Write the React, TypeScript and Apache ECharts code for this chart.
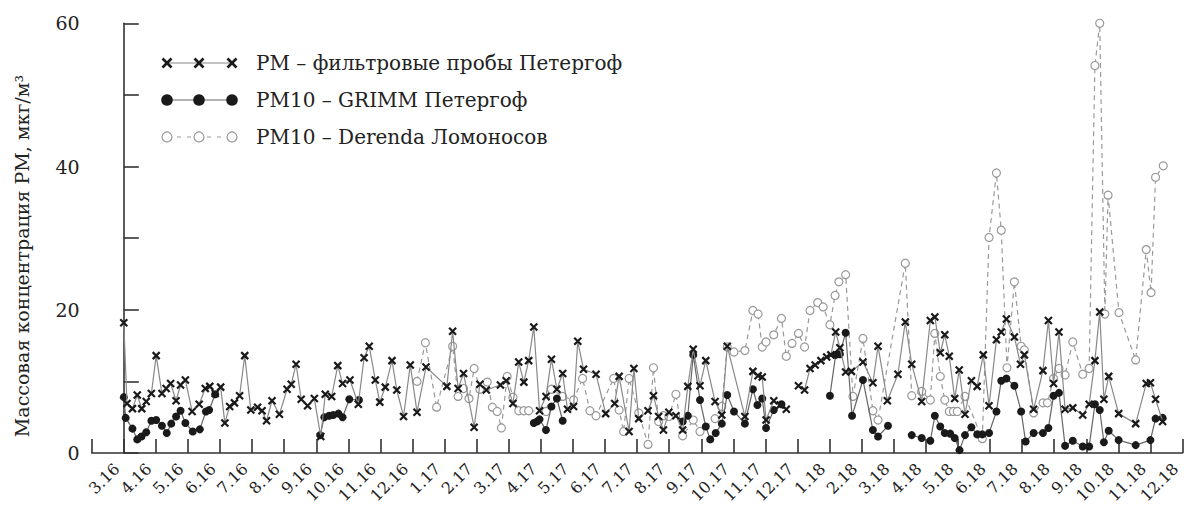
import React, { useEffect, useRef } from "react";
import * as echarts from "echarts";

// Month tick labels (position 0 = March 2016)
const monthLabels: string[] = [
  "3.16", "4.16", "5.16", "6.16", "7.16", "8.16", "9.16", "10.16", "11.16", "12.16",
  "1.17", "2.17", "3.17", "4.17", "5.17", "6.17", "7.17", "8.17", "9.17", "10.17", "11.17", "12.17",
  "1.18", "2.18", "3.18", "4.18", "5.18", "6.18", "7.18", "8.18", "9.18", "10.18", "11.18", "12.18",
];

const yAxisName = "Массовая концентрация PM, мкг/м³";
const seriesNames = [
  "PM – фильтровые пробы Петергоф",
  "PM10 – GRIMM Петергоф",
  "PM10 – Derenda Ломоносов",
];

// [month position, concentration]; null = gap
const pmFilter: [number, number | null][] = [
  [0.00, 18.2], [0.10, 6.9], [0.27, 6.2], [0.42, 8.1], [0.56, 6.2], [0.70, 7.2], [0.86, 8.3], [1.01, 13.6],
  [1.19, 8.3], [1.32, 9.0], [1.46, 9.7], [1.63, 7.3], [1.77, 9.5], [1.92, 10.2], [2.13, 5.8], [2.35, 6.8],
  [2.54, 9.0], [2.68, 9.3], [2.85, 8.3], [3.02, 9.2], [3.15, 4.2], [3.30, 6.5], [3.45, 7.0], [3.61, 8.0],
  [3.77, 13.6], [3.96, 6.0], [4.17, 6.4], [4.31, 5.9], [4.45, 4.5], [4.62, 7.3], [4.85, 5.4], [5.09, 8.9],
  [5.22, 9.6], [5.37, 12.4], [5.53, 7.5], [5.73, 6.6], [5.94, 7.6], [6.14, 2.3], [6.28, 8.2], [6.48, 7.9],
  [6.67, 12.2], [6.82, 9.7], [7.05, 10.2], [7.31, 6.8], [7.49, 13.3], [7.65, 14.9], [7.84, 10.2], [7.98, 7.1],
  [8.15, 9.2], [8.36, 12.9], [8.51, 8.8], [8.72, 5.1], [8.93, 12.3], [9.14, 5.7], [9.42, 12.0], [10.07, 9.3],
  [10.25, 17.0], [10.42, 9.0], [10.59, 11.1], [10.92, 3.6], [11.10, 9.6], [11.30, 8.8], [11.74, 9.5], [11.92, 10.1],
  [12.13, 6.9], [12.31, 12.7], [12.47, 9.9], [12.62, 12.9], [12.78, 17.6], [12.96, 5.9], [13.16, 7.9], [13.33, 13.1],
  [13.50, 8.9], [13.68, 11.1], [13.83, 6.1], [14.02, 6.5], [14.15, 15.6], [14.33, 11.7], [14.72, 11.0], [15.02, 5.5],
  [15.30, 6.9], [15.44, 10.7], [15.75, 3.0], [15.90, 11.8], [16.05, 4.8], [16.34, 5.9], [16.51, 8.0], [16.67, 5.1],
  [16.82, 3.2], [16.99, 5.7], [17.21, 5.2], [17.42, 3.2], [17.58, 9.3], [17.75, 14.5], [17.96, 9.4], [18.14, 12.9],
  [18.43, 7.2], [18.64, 5.3], [18.81, 14.9], [19.36, 5.1], [19.61, 11.4], [19.77, 10.8], [19.90, 10.6], [20.02, 4.6],
  [20.26, 7.3], [20.46, 6.7], [20.65, 6.1], [20.84, null], [21.03, 9.4], [21.22, 8.8], [21.39, 11.8], [21.55, 12.3],
  [21.73, 12.9], [21.91, 13.4], [22.04, 13.7], [22.19, 16.9], [22.32, 14.7], [22.50, 11.3], [22.68, 11.4], [23.04, 12.7],
  [23.35, 9.8], [23.51, 14.9], [23.80, 7.3], [24.13, 11.0], [24.36, 18.3], [24.56, 12.4], [24.87, 7.2], [25.14, 18.5],
  [25.28, 19.0], [25.45, 14.0], [25.59, 16.5], [25.73, 13.5], [25.90, 7.6], [26.04, 11.6], [26.22, 5.4], [26.42, 10.1],
  [26.60, 9.3], [26.79, 13.7], [26.97, 6.6], [27.20, 15.8], [27.35, 16.9], [27.51, 18.7], [27.76, 16.2], [27.95, 12.4],
  [28.07, 13.7], [28.36, 6.1], [28.65, 11.5], [28.82, 18.5], [28.98, 9.7], [29.15, 16.9], [29.34, 6.1], [29.58, 6.3],
  [29.89, 5.3], [30.09, 6.8], [30.27, 12.9], [30.42, 19.7], [30.55, 7.5], [30.70, 10.7], [31.01, 5.5], [31.54, 4.1],
  [31.87, 9.7], [32.00, 9.8], [32.16, 7.5], [32.38, 4.4],
];

const pmGrimm: [number, number | null][] = [
  [0.00, 7.8], [0.06, 4.9], [0.27, 3.4], [0.42, 1.9], [0.55, 2.3], [0.70, 2.9], [0.86, 4.5], [1.01, 4.6],
  [1.19, 3.8], [1.34, 2.8], [1.48, 4.1], [1.63, 5.1], [1.77, 5.9], [1.92, 4.2], [2.15, 3.0], [2.37, 3.3],
  [2.56, 5.8], [2.66, 6.0], [2.85, 8.2], [4.5, null], [6.12, 2.5], [6.25, 5.0], [6.40, 5.2], [6.53, 5.3],
  [6.69, 5.5], [6.82, 5.0], [7.03, 7.5], [7.33, 7.4], [10.0, null], [12.78, 4.2], [12.88, 4.4], [12.96, 4.7],
  [13.16, 3.2], [13.33, 6.5], [13.50, 7.6], [13.68, 4.5], [15.5, null], [17.42, 4.4], [17.58, 5.2], [17.75, 13.7],
  [17.96, 7.4], [18.14, 3.7], [18.28, 1.9], [18.45, 2.8], [18.64, 4.1], [18.81, 8.1], [19.02, 5.8], [19.36, 4.1],
  [19.61, 8.9], [19.75, 6.7], [19.90, 7.6], [20.02, 3.5], [20.26, 6.0], [20.50, 6.8], [21.2, null], [22.01, 8.0],
  [22.19, 13.7], [22.32, 13.8], [22.50, 16.8], [22.70, 5.2], [23.04, 10.2], [23.35, 3.2], [23.51, 2.3], [23.82, 3.8],
  [24.2, null], [24.56, 2.5], [24.87, 2.1], [25.14, 1.7], [25.28, 5.2], [25.45, 3.7], [25.59, 2.8], [25.76, 2.7],
  [25.90, 2.1], [26.05, 0.4], [26.22, 2.5], [26.42, 3.6], [26.60, 2.6], [26.76, 2.6], [26.97, 2.8], [27.20, 5.8],
  [27.35, 10.1], [27.51, 10.4], [27.76, 9.4], [27.97, 5.8], [28.11, 1.6], [28.36, 2.8], [28.65, 2.8], [28.82, 3.5],
  [28.98, 8.0], [29.15, 8.4], [29.34, 1.0], [29.58, 1.7], [29.89, 0.9], [30.09, 0.9], [30.27, 6.8], [30.42, 6.0],
  [30.55, 1.5], [30.70, 3.1], [31.01, 1.8], [31.54, 1.1], [32.00, 1.8], [32.16, 4.8], [32.38, 4.9],
];

const pmDerenda: [number, number | null][] = [
  [9.14, 10.0], [9.40, 15.4], [9.75, 6.4], [10.25, 14.9], [10.42, 7.9], [10.59, 9.0], [10.76, 7.6], [10.92, 11.8],
  [11.10, 8.9], [11.33, 9.9], [11.49, 6.4], [11.64, 5.8], [11.77, 3.5], [11.95, 10.7], [12.13, 7.8], [12.31, 5.9],
  [12.47, 5.9], [12.62, 5.9], [13.16, 5.8], [13.33, 8.9], [13.68, 7.9], [14.02, 7.4], [14.30, 10.4], [14.53, 5.9],
  [14.72, 5.2], [15.27, 10.4], [15.44, 6.0], [15.58, 3.0], [15.75, 10.4], [16.05, 5.6], [16.34, 1.2], [16.51, 11.9],
  [16.67, 4.4], [16.82, 5.2], [16.99, 5.1], [17.21, 8.2], [17.42, 2.4], [17.75, 4.6], [17.96, 3.0], [18.43, 4.8],
  [18.64, 6.5], [18.81, 14.8], [19.02, 14.1], [19.36, 14.3], [19.61, 19.9], [19.77, 19.4], [19.90, 14.8], [20.02, 15.5],
  [20.26, 16.5], [20.50, 18.8], [20.65, 13.5], [20.83, 15.3], [21.03, 16.7], [21.22, 14.8], [21.39, 19.9], [21.63, 21.0],
  [21.80, 20.4], [22.01, 17.9], [22.17, 22.0], [22.29, 23.9], [22.50, 24.9], [22.73, 7.9], [23.04, 16.0], [23.35, 5.9],
  [23.51, 4.6], [24.36, 26.5], [24.56, 8.0], [24.87, 8.6], [25.14, 7.4], [25.28, 16.7], [25.45, 10.7], [25.59, 7.4],
  [25.73, 5.8], [25.86, 5.8], [25.98, 5.8], [26.22, 7.9], [26.76, 2.0], [26.97, 30.1], [27.20, 39.1], [27.35, 31.1],
  [27.53, 11.9], [27.76, 23.9], [27.97, 14.9], [28.07, 14.4], [28.36, 5.6], [28.65, 7.0], [28.79, 7.0], [28.98, 10.4],
  [29.15, 11.8], [29.34, 10.9], [29.58, 15.5], [29.89, 11.0], [30.09, 11.8], [30.27, 54.1], [30.42, 60.0], [30.58, 19.4],
  [30.68, 36.0], [31.02, 19.6], [31.54, 13.0], [31.87, 28.4], [32.02, 22.4], [32.16, 38.5], [32.40, 40.1],
];

const FONT = "DejaVu Serif";
const INK = "#1a1a1a";

function toData(arr: [number, number | null][]) {
  return arr.map(([x, y]) => [x, y === null ? "-" : y]);
}

function buildGraphics() {
  const rows = [63, 100, 137];
  const xs = [167, 199, 232];
  const g: any[] = [];
  g.push({ type: "line", shape: { x1: xs[0], y1: rows[0], x2: xs[2], y2: rows[0] }, style: { stroke: "#888", lineWidth: 1.2 }, silent: true });
  xs.forEach((x) => {
    const h = 4.5;
    g.push({ type: "line", shape: { x1: x - h, y1: rows[0] - h, x2: x + h, y2: rows[0] + h }, style: { stroke: INK, lineWidth: 2.6 }, silent: true });
    g.push({ type: "line", shape: { x1: x - h, y1: rows[0] + h, x2: x + h, y2: rows[0] - h }, style: { stroke: INK, lineWidth: 2.6 }, silent: true });
  });
  g.push({ type: "line", shape: { x1: xs[0], y1: rows[1], x2: xs[2], y2: rows[1] }, style: { stroke: "#666", lineWidth: 1.2 }, silent: true });
  xs.forEach((x) => {
    g.push({ type: "circle", shape: { cx: x, cy: rows[1], r: 5.8 }, style: { fill: INK }, silent: true });
  });
  g.push({ type: "line", shape: { x1: xs[0], y1: rows[2], x2: xs[2], y2: rows[2] }, style: { stroke: "#999", lineWidth: 1.2, lineDash: [4, 6] }, silent: true });
  xs.forEach((x) => {
    g.push({ type: "circle", shape: { cx: x, cy: rows[2], r: 5 }, style: { fill: "#fff", stroke: "#999", lineWidth: 1.2 }, silent: true });
  });
  seriesNames.forEach((name, i) => {
    g.push({
      type: "text",
      x: 256,
      y: rows[i],
      silent: true,
      style: { text: name, fontFamily: FONT, fontSize: 20, fill: "#222", verticalAlign: "middle", align: "left" },
    });
  });
  // y-axis title
  g.push({
    type: "text",
    x: 22,
    y: 256,
    rotation: Math.PI / 2,
    silent: true,
    style: { text: yAxisName, fontFamily: FONT, fontSize: 19, fill: "#222", align: "center", verticalAlign: "middle" },
  });
  return g;
}

export default function App() {
  const ref = useRef<HTMLDivElement>(null);
  useEffect(() => {
    if (!ref.current) return;
    const chart = echarts.init(ref.current, null, { renderer: "svg" });
    const axisColor = "#333";
    const option: any = {
      animation: false,
      backgroundColor: "#fff",
      grid: { left: 91.7, right: 1.5, top: 23.3, bottom: 53, containLabel: false, outerBoundsMode: "none" },
      xAxis: {
        type: "value",
        min: -1,
        max: 33,
        interval: 1,
        axisLine: { show: true, onZero: false, lineStyle: { color: axisColor, width: 1.6 } },
        axisTick: { show: true, inside: true, length: 14, lineStyle: { color: axisColor, width: 1.6 } },
        splitLine: { show: false },
        axisLabel: {
          rotate: 45,
          margin: 6,
          padding: [0, 10, 0, 0],
          fontFamily: FONT,
          fontSize: 16,
          color: "#222",
          hideOverlap: false,
          formatter: (v: number) => monthLabels[Math.round(v)] ?? "",
        },
      },
      yAxis: {
        type: "value",
        min: 0,
        max: 60,
        interval: 10,
        axisLine: { show: true, lineStyle: { color: axisColor, width: 1.6 } },
        axisTick: { show: true, inside: true, length: 15, lineStyle: { color: axisColor, width: 1.6 } },
        splitLine: { show: false },
        axisLabel: {
          margin: 12,
          fontFamily: FONT,
          fontSize: 19,
          color: "#222",
          formatter: (v: number) => (v % 20 === 0 ? String(v) : ""),
        },
      },
      graphic: buildGraphics(),
      series: [
        {
          name: seriesNames[2],
          type: "line",
          data: toData(pmDerenda),
          symbol: "circle",
          symbolSize: 8,
          showAllSymbol: true,
          connectNulls: false,
          itemStyle: { color: "#fff", borderColor: "#999", borderWidth: 1.2 },
          lineStyle: { color: "#999", width: 1.2, type: [5, 4] },
          z: 2,
          silent: true,
        },
        {
          name: seriesNames[1],
          type: "line",
          data: toData(pmGrimm),
          symbol: "circle",
          symbolSize: 8,
          showAllSymbol: true,
          connectNulls: false,
          itemStyle: { color: INK, borderWidth: 0 },
          lineStyle: { color: "#666", width: 1.2 },
          z: 3,
          silent: true,
        },
        {
          name: seriesNames[0],
          type: "line",
          data: toData(pmFilter),
          symbol: "path://M0,0L10,10M10,0L0,10",
          symbolSize: 7,
          showAllSymbol: true,
          connectNulls: false,
          itemStyle: { color: INK, borderColor: INK, borderWidth: 2.2 },
          lineStyle: { color: "#888", width: 1.2 },
          z: 4,
          silent: true,
        },
      ],
    };
    chart.setOption(option);
    return () => chart.dispose();
  }, []);
  return (
    <div
      ref={ref}
      style={{ position: "absolute", left: 0, top: 0, width: 1184, height: 506, background: "#fff" }}
    />
  );
}
